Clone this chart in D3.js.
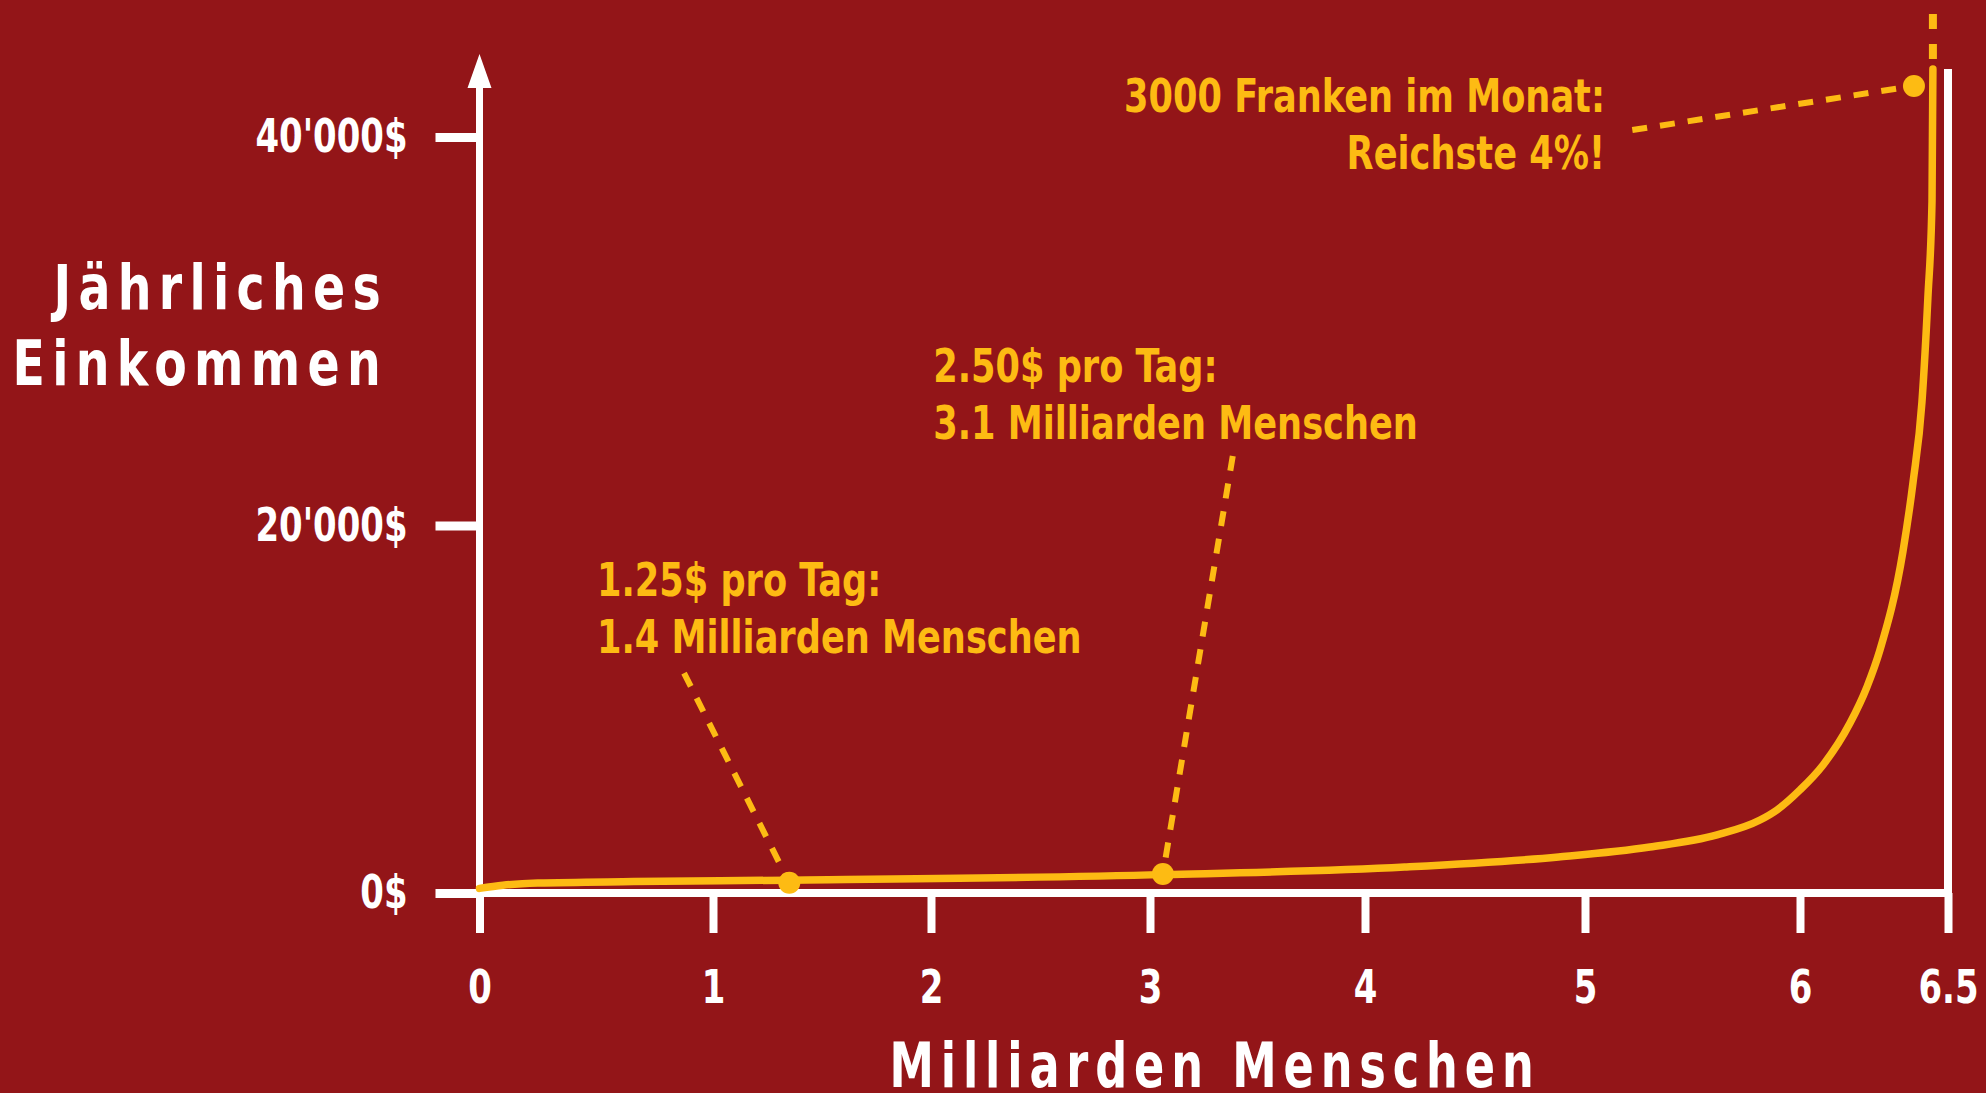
<!DOCTYPE html>
<html lang="de">
<head>
    <meta charset="UTF-8">
    <title>Jährliches Einkommen</title>
    <script src="https://d3js.org/d3.v7.min.js"></script>
    <style>
        body {
            margin: 0;
            background: #931518;
            overflow: hidden;
        }
        svg text {
            font-family: 'DejaVu Sans Condensed', 'DejaVu Sans', sans-serif;
            font-weight: bold;
        }
        .tick text {
            fill: #fff;
            font-size: 46px;
        }
        .note {
            fill: #fdbb13;
            font-size: 46px;
        }
        .title {
            fill: #fff;
            font-size: 62px;
            letter-spacing: 8.6px;
        }
    </style>
</head>
<body>
<div id="chart"></div>
<script>
    // axis ticks
    const xTicks = [0, 1, 2, 3, 4, 5, 6, 6.5];
    const yTicks = [0, 20000, 40000];
    const yTickLabels = ["0$", "20'000$", "40'000$"];

    // income curve: billions of people (poorest first) vs yearly income in $
    const people = [0, 0.1, 0.25, 0.66, 1.35, 3.07, 4.18, 4.88, 5.302, 5.614, 5.814, 5.893,
                    6.0, 6.078, 6.169, 6.226, 6.27, 6.348, 6.382, 6.412, 6.432, 6.446, 6.449];
    const income = [250, 420, 540, 620, 700, 1000, 1415, 1960, 2500, 3160, 3970, 4520,
                    5610, 6970, 9250, 11210, 13220, 18610, 22240, 26360, 31710, 36700, 43500];
    const incomeTop = 47100; // dashed continuation off the top

    // annotation points
    const dotPeople = [1.35, 3.06, 6.385];
    const dotIncome = [560, 1030, 42630];
    const leaderPeople = [0.876, 3.385, 5.22];
    const leaderIncome = [11970, 23580, 40360];
    const noteLines = [
        ["1.25$ pro Tag:", "1.4 Milliarden Menschen"],
        ["2.50$ pro Tag:", "3.1 Milliarden Menschen"],
        ["3000 Franken im Monat:", "Reichste 4%!"]
    ];
    const notePeople = [0.503, 2.01, 5.093];
    const noteIncome = [16160, 27400, 41290];
    const noteAnchor = ["start", "start", "end"];

    const width = 1986, height = 1093;
    const white = "#fff", yellow = "#fdbb13";
    const squeeze = 0.82;   // DIN is narrower than DejaVu

    const svg = d3.select("#chart").append("svg")
        .attr("width", width)
        .attr("height", height);

    // hand drawn axes are not quite even, so piecewise scales
    const x = d3.scaleLinear()
        .domain(xTicks)
        .range([479.5, 713, 931, 1150, 1365, 1585, 1800, 1948]);

    const y = d3.scaleLinear()
        .domain(yTicks)
        .range([893, 525.5, 137]);

    function narrow(sel) {
        sel.each(function() {
            const t = d3.select(this);
            const xx = +t.attr("x") || 0;
            t.attr("x", xx / squeeze).attr("transform", `scale(${squeeze},1)`);
        });
    }

    // x axis
    const xAxis = svg.append("g")
        .attr("transform", `translate(0,${y(0)})`)
        .call(d3.axisBottom(x).tickValues(xTicks).tickSize(40).tickPadding(37)
            .tickFormat(d3.format("")));
    xAxis.select(".domain").remove();
    xAxis.selectAll(".tick line").attr("stroke", white).attr("stroke-width", 8);
    narrow(xAxis.selectAll(".tick text"));

    svg.append("line")
        .attr("x1", 436).attr("x2", x(6.5) + 4)
        .attr("y1", y(0)).attr("y2", y(0))
        .attr("stroke", white).attr("stroke-width", 8);

    // right border line up to the top of the curve
    svg.append("line")
        .attr("x1", x(6.5)).attr("x2", x(6.5))
        .attr("y1", y(0)).attr("y2", y(income[income.length - 1]))
        .attr("stroke", white).attr("stroke-width", 8);

    // y axis
    const yAxis = svg.append("g")
        .attr("transform", `translate(${x(0)},0)`)
        .call(d3.axisLeft(y).tickValues(yTicks).tickSize(44).tickPadding(28)
            .tickFormat((d, i) => yTickLabels[i]));
    yAxis.select(".domain").remove();
    yAxis.selectAll(".tick line").attr("stroke", white).attr("stroke-width", 9);
    narrow(yAxis.selectAll(".tick text"));

    svg.append("line")
        .attr("x1", x(0)).attr("x2", x(0))
        .attr("y1", y(0) + 40).attr("y2", 86)
        .attr("stroke", white).attr("stroke-width", 7);

    svg.append("path")
        .attr("d", `M${x(0)},54 L${x(0) + 12},88 L${x(0) - 12},88 Z`)
        .attr("fill", white);

    // squeezed text helper
    function label(px, py, anchor, cls, s, str) {
        svg.append("g")
            .attr("transform", `translate(${px},${py}) scale(${s},1)`)
            .append("text")
            .attr("class", cls)
            .attr("text-anchor", anchor)
            .text(str);
    }

    // axis titles
    label(388, 309, "end", "title", 0.85, "Jährliches");
    label(388, 385, "end", "title", 0.85, "Einkommen");
    label(1215, 1087, "middle", "title", 0.8, "Milliarden Menschen");

    // leader lines
    svg.selectAll(".leader")
        .data(dotPeople)
        .join("line")
        .attr("class", "leader")
        .attr("x1", (d, i) => x(leaderPeople[i]))
        .attr("y1", (d, i) => y(leaderIncome[i]))
        .attr("x2", d => x(d))
        .attr("y2", (d, i) => y(dotIncome[i]))
        .attr("stroke", yellow)
        .attr("stroke-width", 6)
        .attr("stroke-dasharray", "15 13");

    // the curve
    const line = d3.line()
        .x((d, i) => x(people[i]))
        .y(d => y(d))
        .curve(d3.curveMonotoneX);

    svg.append("path")
        .datum(income)
        .attr("d", line)
        .attr("fill", "none")
        .attr("stroke", yellow)
        .attr("stroke-width", 7.5)
        .attr("stroke-linecap", "round");

    const last = people.length - 1;
    svg.append("line")
        .attr("x1", x(people[last])).attr("x2", x(people[last]))
        .attr("y1", y(incomeTop)).attr("y2", y(income[last]))
        .attr("stroke", yellow)
        .attr("stroke-width", 8)
        .attr("stroke-dasharray", "15 15")
        .attr("stroke-dashoffset", 15);

    // dots
    svg.selectAll(".dot")
        .data(dotPeople)
        .join("circle")
        .attr("class", "dot")
        .attr("cx", d => x(d))
        .attr("cy", (d, i) => y(dotIncome[i]))
        .attr("r", 11)
        .attr("fill", yellow);

    // notes
    noteLines.forEach((lines, i) => {
        lines.forEach((s, j) => {
            label(x(notePeople[i]), y(noteIncome[i]) + j * 57, noteAnchor[i], "note", 0.85, s);
        });
    });
</script>
</body>
</html>
